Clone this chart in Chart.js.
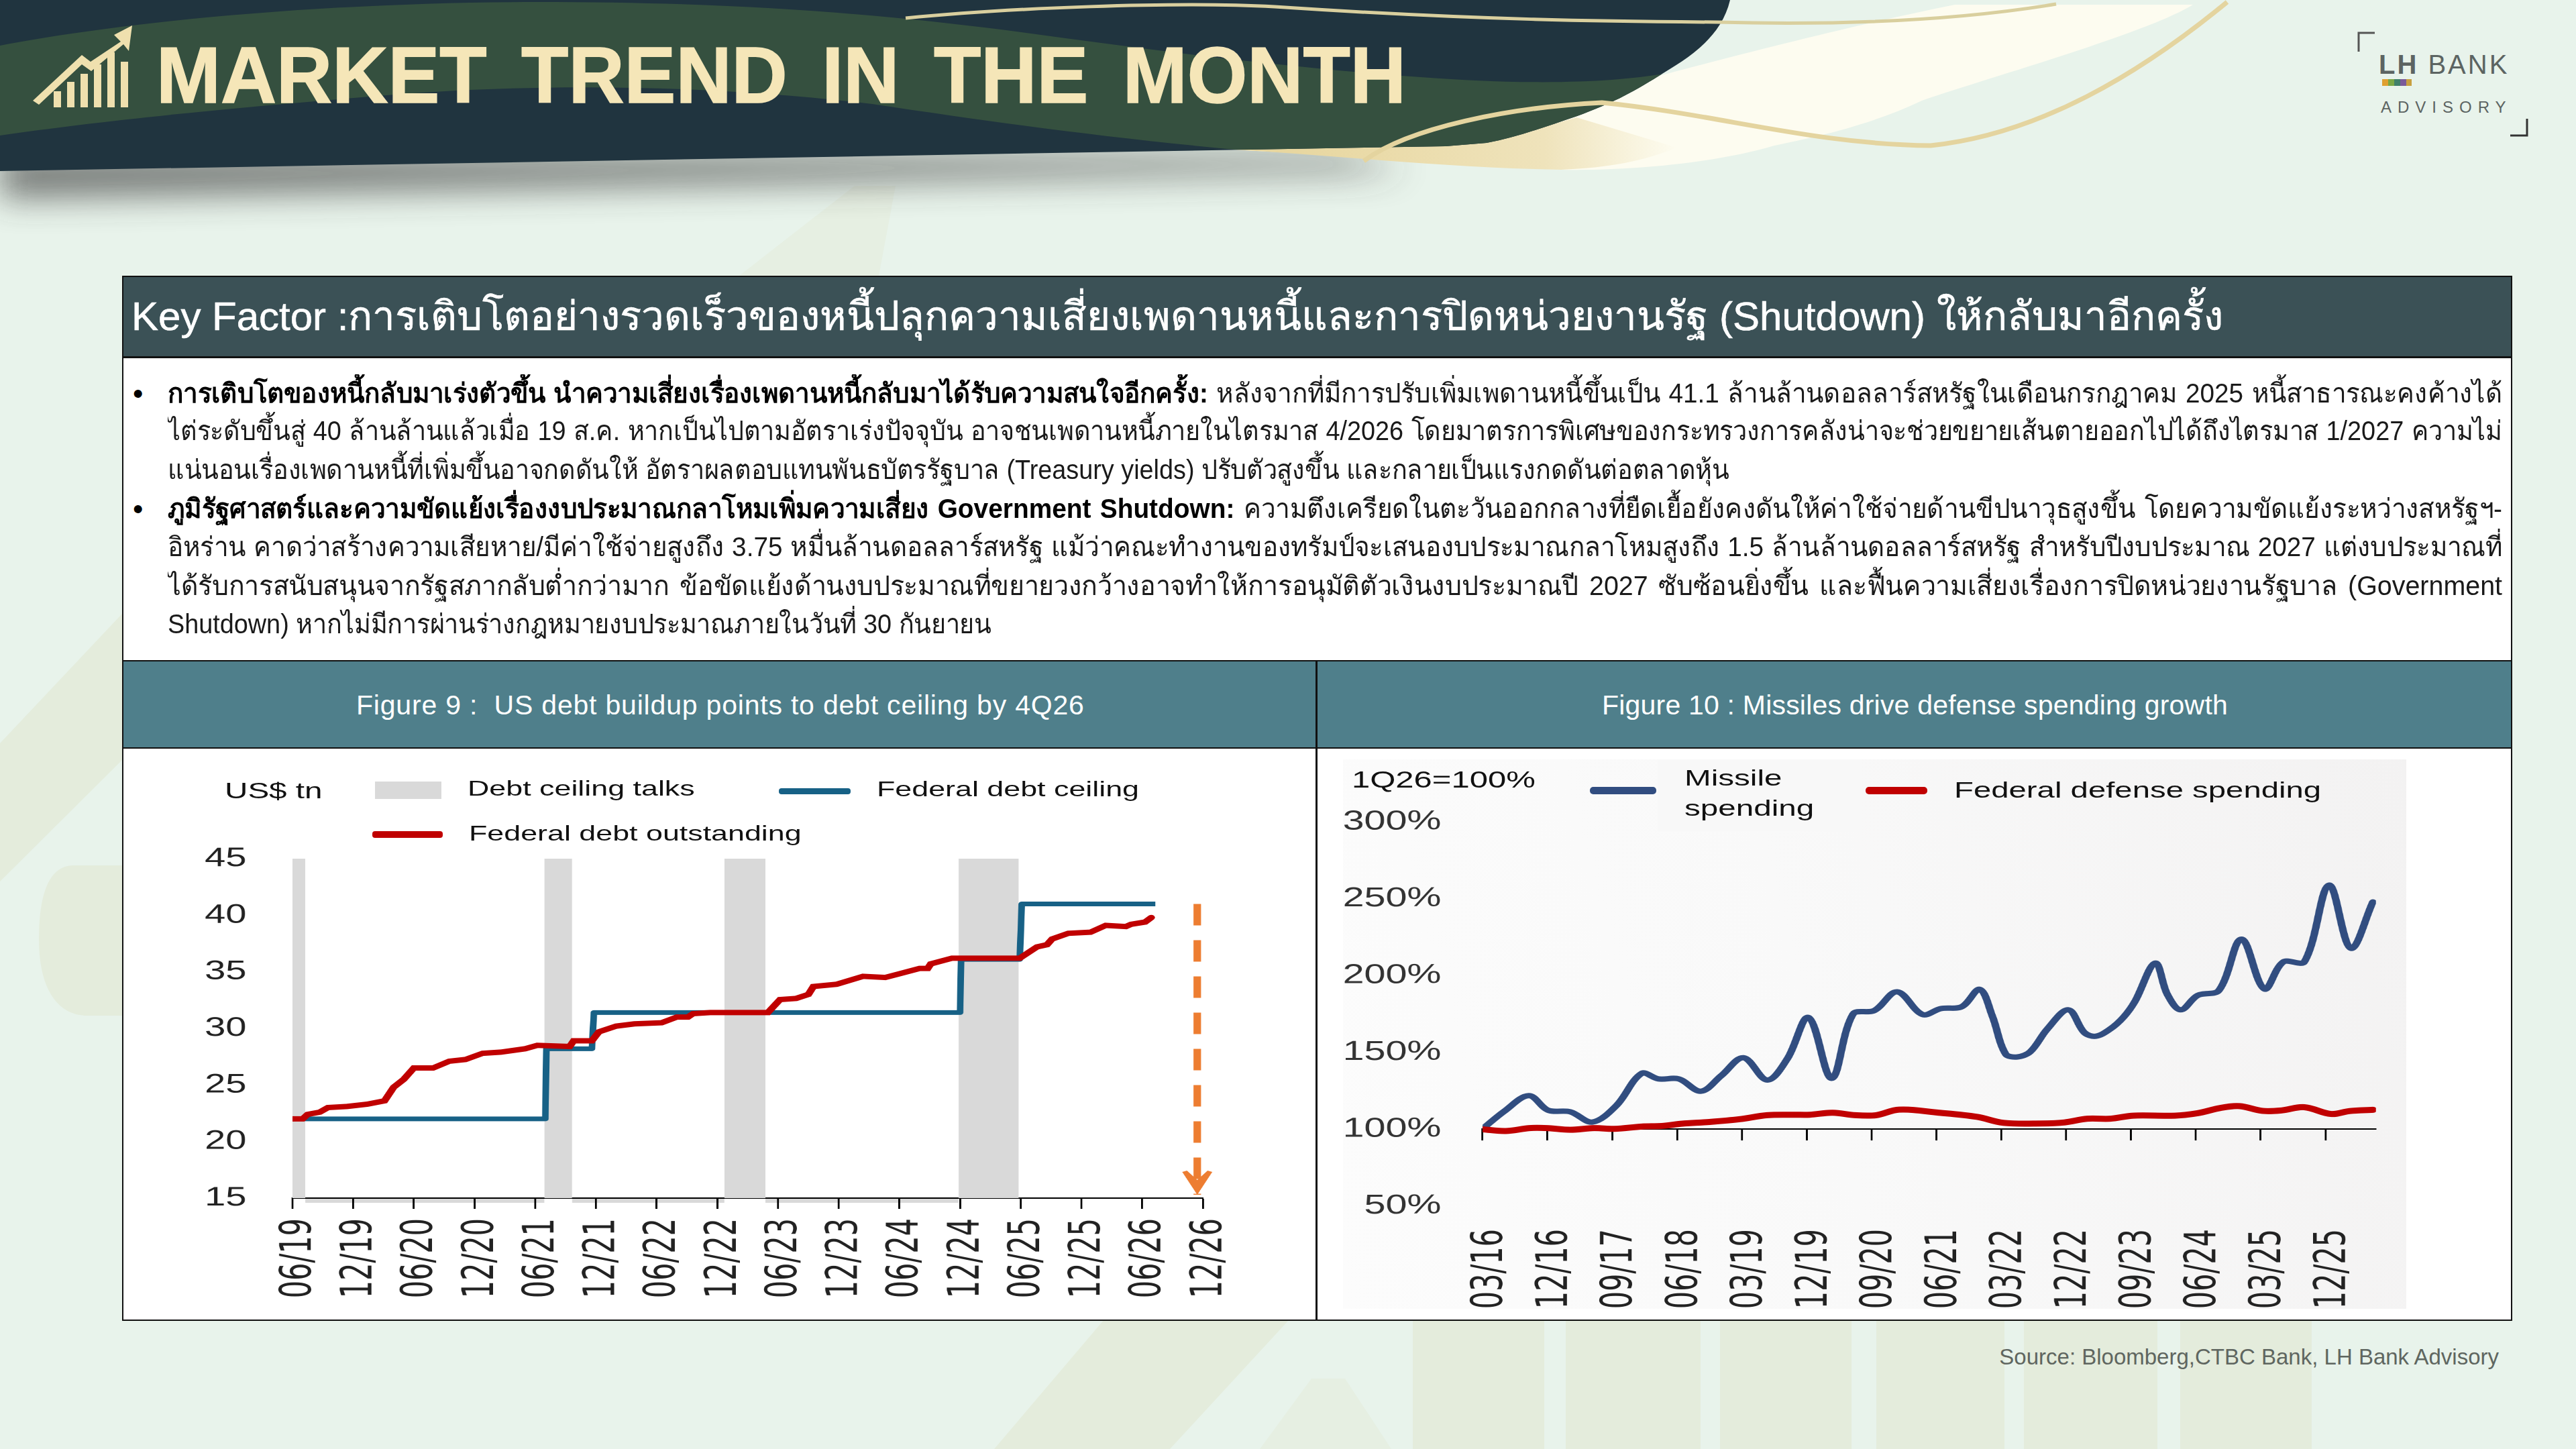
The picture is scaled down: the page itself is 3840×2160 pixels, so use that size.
<!DOCTYPE html>
<html lang="th">
<head>
<meta charset="utf-8">
<title>Market Trend in the Month</title>
<script src="https://cdn.jsdelivr.net/npm/chart.js@4"></script>
<style>
  html, body { margin: 0; padding: 0; }
  body { position: relative; width: 3840px; height: 2160px; overflow: hidden; background: #e8f3eb;
         font-family: "Liberation Sans", "Noto Sans", sans-serif; color: #000; }
  .abs { position: absolute; }
  #backdrop { left: 0; top: 0; }
  #box { left: 182px; top: 411px; width: 3559px; height: 1554px; background: #fff; border: 2px solid #111; }
  #keyBar { left: 184px; top: 413px; width: 3559px; height: 118px; background: #3b5156; border-bottom: 3px solid #111; }
  #keyText { left: 196px; top: 470px; color: #fff; font-size: 60px; white-space: nowrap; transform: translateY(-50%); -webkit-text-stroke: 0.6px #fff; }
  .line { position: absolute; left: 250px; width: 3480px; height: 57px; line-height: 57px; font-size: 40px; overflow: hidden;
          text-align: justify; text-align-last: justify; color: #1a1a1a; transform-origin: 0 0; }
  .line.end { text-align-last: left; }
  .line b { color: #000; }
  .bullet { position: absolute; left: 198px; font-size: 44px; line-height: 57px; }
  .figBar { top: 984px; height: 128px; background: #4f7f8b; border-top: 2px solid #111; border-bottom: 2px solid #111; }
  .figTitle { top: 1051px; color: #fff; font-size: 41px; white-space: nowrap; transform: translateY(-50%); }
  #divider { left: 1961px; top: 984px; width: 3px; height: 983px; background: #111; }
  #plotBg { left: 2002px; top: 1132px; width: 1585px; height: 819px;
            background: linear-gradient(75deg, #fcfcfc 0%, #f9f9f9 45%, #f3f2f2 100%); }
  #legendBox { left: 2471px; top: 1132px; width: 304px; height: 107px; background: #f8f8f8; }
  .chartWrap { position: absolute; top: 1116px; width: 1269px; height: 849px; transform: scaleX(1.4); transform-origin: 0 0; }
  .lg { position: absolute; white-space: nowrap; color: #111; transform: translateY(-50%) scaleX(1.4); transform-origin: 0 50%; }
  .swatch { position: absolute; }
  #source { right: 115px; top: 2023px; font-size: 33px; color: #5f6660; transform: translateY(-50%); white-space: nowrap; }
  .logo { position: absolute; white-space: nowrap; color: #5c6462; }
</style>
</head>
<body>

<svg id="backdrop" class="abs" width="3840" height="2160" viewBox="0 0 3840 2160">
  <defs>
    <filter id="soft" x="-10%" y="-100%" width="120%" height="300%"><feGaussianBlur stdDeviation="26"/></filter>
    <linearGradient id="gold" x1="0" y1="0" x2="1" y2="0">
      <stop offset="0" stop-color="#e6d49a"/><stop offset="0.7" stop-color="#efe3bb"/><stop offset="1" stop-color="#fdfcf0"/>
    </linearGradient>
    <clipPath id="bandClip">
      <path d="M0 0H2579C2565 60 2510 90 2473 113C2430 140 2400 155 2351 173C2300 190 2260 205 2216 213L2155 218L0 255Z"/>
    </clipPath>
  </defs>
  <!-- faint background shapes -->
  <g fill="#e4ecdc">
    <path d="M1274 277H1335L1310 411H1102Z" opacity=".6"/>
    <path d="M0 1108L182 915V1133L0 1314Z"/>
    <path d="M182 1290H110C70 1290 58 1340 58 1400C58 1480 90 1514 130 1514H182Z"/>
    <path d="M1646 1967H1922L1744 2160H1482Z"/>
    <path d="M2106 1967H2302V2160H2106ZM2334 1967H2535V2160H2334ZM2564 1967H2760V2160H2564ZM2797 1967H2988V2160H2797ZM3017 1967H3216V2160H3017ZM3250 1967H3446V2160H3250Z"/>
    <path d="M1878 2160L1955 2055H2005L2074 2160Z" opacity=".6"/>
  </g>
  <!-- header shadow -->
  <path d="M0 205H2000L2100 225L0 265Z" fill="#3a3a3a" opacity=".72" filter="url(#soft)" transform="translate(0,28)"/>
  <!-- cream swoosh -->
  <path d="M2914 7H3269C3200 50 2950 120 2865 150C2780 190 2700 205 2645 217C2550 245 2420 255 2327 253C2170 245 1980 230 1837 223L2216 213L2473 113C2560 90 2750 40 2914 7Z" fill="#fdfcf0"/>
  <path d="M1840 223C2000 232 2150 250 2327 253C2400 250 2450 240 2500 220L2350 175L2216 213Z" fill="url(#gold)"/>
  <!-- dark band -->
  <path d="M0 0H2579C2565 60 2510 90 2473 113C2430 140 2400 155 2351 173C2300 190 2260 205 2216 213L2155 218L0 255Z" fill="#20343f"/>
  <g clip-path="url(#bandClip)">
    <path d="M0 68C200 30 500 3 800 3C1100 3 1300 20 1500 45C1750 80 2000 110 2200 120C2330 126 2420 120 2480 110L2600 220L1840 223C1650 205 1500 185 1300 155C1050 125 800 125 600 140C350 160 150 180 0 202Z" fill="#35503f"/>
  </g>
  <!-- gold strokes -->
  <path d="M1350 27C1500 12 1750 2 1900 10C2200 30 2400 32 2560 33C2750 38 2920 30 3065 6" fill="none" stroke="#d9cf9e" stroke-width="5"/>
  <path d="M2033 240C2100 190 2250 160 2388 153C2560 170 2700 215 2878 217C3040 200 3190 110 3320 3" fill="none" stroke="#e4d49f" stroke-width="7"/>
  <!-- icon -->
  <g fill="#efe0ae">
    <rect x="80"  y="136" width="11" height="24"/>
    <rect x="100" y="122" width="11" height="38"/>
    <rect x="120" y="110" width="11" height="50"/>
    <rect x="140" y="96"  width="11" height="64"/>
    <rect x="160" y="78"  width="11" height="82"/>
    <rect x="180" y="92"  width="11" height="68"/>
    <path d="M49 150L122 82L135 92L180 62L170 52L197 38L192 76L184 66L136 106L122 96L58 156Z"/>
  </g>
  <!-- logo marks -->
  <path d="M3516 77V49H3540" fill="none" stroke="#555" stroke-width="3"/>
  <path d="M3767 177V202H3742" fill="none" stroke="#333" stroke-width="3"/>
  <g>
    <rect x="3551" y="118" width="9" height="10" fill="#e0a030"/>
    <rect x="3560" y="118" width="9" height="10" fill="#7aa845"/>
    <rect x="3569" y="118" width="9" height="10" fill="#40806a"/>
    <rect x="3578" y="118" width="9" height="10" fill="#7a5a9a"/>
    <rect x="3587" y="118" width="8" height="10" fill="#c8a040"/>
  </g>
  <text x="233" y="153" font-family="Liberation Sans" font-weight="700" font-size="118" fill="#f5e6b8" stroke="#f5e6b8" stroke-width="1.5"
        textLength="1863" lengthAdjust="spacingAndGlyphs" word-spacing="20">MARKET TREND IN THE MONTH</text>
</svg>

<div class="logo" style="left:3546px;top:74px;font-size:40px;letter-spacing:3px;"><b>LH</b> BANK</div>
<div class="logo" style="left:3549px;top:146px;font-size:24px;letter-spacing:9px;">ADVISORY</div>

<div id="box" class="abs"></div>
<div id="keyBar" class="abs"></div>
<div id="keyText" class="abs">Key Factor :การเติบโตอย่างรวดเร็วของหนี้ปลุกความเสี่ยงเพดานหนี้และการปิดหน่วยงานรัฐ (Shutdown) ให้กลับมาอีกครั้ง</div>

<div class="bullet" style="top:558px">•</div>
<div class="line" style="top:558px"><b>การเติบโตของหนี้กลับมาเร่งตัวขึ้น นำความเสี่ยงเรื่องเพดานหนี้กลับมาได้รับความสนใจอีกครั้ง:</b> หลังจากที่มีการปรับเพิ่มเพดานหนี้ขึ้นเป็น 41.1 ล้านล้านดอลลาร์สหรัฐในเดือนกรกฎาคม 2025 หนี้สาธารณะคงค้างได้</div>
<div class="line" style="top:614px">ไต่ระดับขึ้นสู่ 40 ล้านล้านแล้วเมื่อ 19 ส.ค. หากเป็นไปตามอัตราเร่งปัจจุบัน อาจชนเพดานหนี้ภายในไตรมาส 4/2026 โดยมาตรการพิเศษของกระทรวงการคลังน่าจะช่วยขยายเส้นตายออกไปได้ถึงไตรมาส 1/2027 ความไม่</div>
<div class="line end" style="top:672px">แน่นอนเรื่องเพดานหนี้ที่เพิ่มขึ้นอาจกดดันให้ อัตราผลตอบแทนพันธบัตรรัฐบาล (Treasury yields) ปรับตัวสูงขึ้น และกลายเป็นแรงกดดันต่อตลาดหุ้น</div>
<div class="bullet" style="top:730px">•</div>
<div class="line" style="top:730px"><b>ภูมิรัฐศาสตร์และความขัดแย้งเรื่องงบประมาณกลาโหมเพิ่มความเสี่ยง Government Shutdown:</b> ความตึงเครียดในตะวันออกกลางที่ยืดเยื้อยังคงดันให้ค่าใช้จ่ายด้านขีปนาวุธสูงขึ้น โดยความขัดแย้งระหว่างสหรัฐฯ-</div>
<div class="line" style="top:787px">อิหร่าน คาดว่าสร้างความเสียหาย/มีค่าใช้จ่ายสูงถึง 3.75 หมื่นล้านดอลลาร์สหรัฐ แม้ว่าคณะทำงานของทรัมป์จะเสนองบประมาณกลาโหมสูงถึง 1.5 ล้านล้านดอลลาร์สหรัฐ สำหรับปีงบประมาณ 2027 แต่งบประมาณที่</div>
<div class="line" style="top:845px">ได้รับการสนับสนุนจากรัฐสภากลับต่ำกว่ามาก ข้อขัดแย้งด้านงบประมาณที่ขยายวงกว้างอาจทำให้การอนุมัติตัวเงินงบประมาณปี 2027 ซับซ้อนยิ่งขึ้น และฟื้นความเสี่ยงเรื่องการปิดหน่วยงานรัฐบาล (Government</div>
<div class="line end" style="top:902px">Shutdown) หากไม่มีการผ่านร่างกฎหมายงบประมาณภายในวันที่ 30 กันยายน</div>

<div class="abs figBar" style="left:184px;width:3559px"></div>
<div id="divider" class="abs"></div>
<div class="abs figTitle" style="left:531px;letter-spacing:0.8px">Figure 9 :&nbsp; US debt buildup points to debt ceiling by 4Q26</div>
<div class="abs figTitle" style="left:2388px;letter-spacing:0.2px">Figure 10 : Missiles drive defense spending growth</div>

<div id="plotBg" class="abs"></div>
<div id="legendBox" class="abs"></div>

<div class="chartWrap" style="left:184px"><canvas id="debtChart" width="1269" height="849"></canvas></div>
<div class="chartWrap" style="left:1964px"><canvas id="missileChart" width="1269" height="849"></canvas></div>

<!-- Figure 9 legend -->
<div class="lg" style="left:335px;top:1178px;font-size:34px">US$ tn</div>
<div class="swatch" style="left:559px;top:1165px;width:99px;height:26px;background:#d9d9d9"></div>
<div class="lg" style="left:697px;top:1175px;font-size:32px">Debt ceiling talks</div>
<div class="swatch" style="left:1161px;top:1175px;width:107px;height:9px;border-radius:4px;background:#176186"></div>
<div class="lg" style="left:1307px;top:1176px;font-size:32px">Federal debt ceiling</div>
<div class="swatch" style="left:555px;top:1239px;width:105px;height:10px;border-radius:4px;background:#c00000"></div>
<div class="lg" style="left:699px;top:1242px;font-size:32px">Federal debt outstanding</div>

<!-- Figure 10 legend -->
<div class="lg" style="left:2015px;top:1162px;font-size:35px">1Q26=100%</div>
<div class="swatch" style="left:2370px;top:1173px;width:99px;height:11px;border-radius:5px;background:#314d80"></div>
<div class="lg" style="left:2511px;top:1159px;font-size:34px">Missile</div>
<div class="lg" style="left:2511px;top:1204px;font-size:34px">spending</div>
<div class="swatch" style="left:2781px;top:1173px;width:92px;height:11px;border-radius:5px;background:#c00000"></div>
<div class="lg" style="left:2913px;top:1177px;font-size:33.8px">Federal defense spending</div>

<div id="source" class="abs">Source: Bloomberg,CTBC Bank, LH Bank Advisory</div>

<script>
// Figure 9 : months counted from 06/19
const debtTickLabels = ['06/19','12/19','06/20','12/20','06/21','12/21','06/22','12/22','06/23','12/23','06/24','12/24','06/25','12/25','06/26','12/26'];
const debtMonths = [0,1,1.5,2.7,3.5,5.4,7.4,9.1,10,11,12,13.9,15.5,17.1,18.8,20.6,23,24.2,27.4,27.8,29.6,30.3,32,33.8,36.5,38,39.1,39.6,41.3,47,48.2,49.8,51,51.5,53.8,56.4,58.6,59.9,62,62.8,63.1,65.2,71.9,73.6,74.6,75.1,76.7,78.9,80.4,82.4,82.9,84.3,84.9];
const debtValues = [22,22,22.4,22.6,23,23.1,23.3,23.6,24.8,25.5,26.5,26.5,27.1,27.25,27.8,27.9,28.2,28.5,28.4,28.9,28.9,29.7,30.2,30.4,30.5,31,31,31.3,31.4,31.4,32.55,32.65,33,33.7,33.9,34.6,34.5,34.8,35.3,35.3,35.7,36.2,36.2,37.2,37.4,37.9,38.4,38.5,39.1,39,39.2,39.4,39.8];
const ceilingMonths = [0,25,25.1,29.6,29.8,66,66.1,71.9,72.1,85.3];
const ceilingValues = [22,22,28.2,28.2,31.4,31.4,36.1,36.1,41,41];
const talkStarts = [-0.07,24.9,42.7,65.85];
const talkEnds = [1.26,27.65,46.75,71.8];
const talkTop = 45;
const arrowMonth = 89.45;
const arrowFrom = 41;
const arrowTo = 15.3;

// Figure 10 : quarters counted from 03/16
const missileTickLabels = ['03/16','12/16','09/17','06/18','03/19','12/19','09/20','06/21','03/22','12/22','09/23','06/24','03/25','12/25'];
const missileQuarters = [0,1,2.14,3.04,4.06,5.08,6.18,7.36,8.14,9.08,10.1,11.05,12.07,13.17,14.1,15.08,16.15,17.15,18.12,19.18,20.36,21.2,22.17,23,23.58,24.2,24.73,25.34,26.13,27.1,27.84,28.37,29.04,29.66,30.18,31.12,31.68,32.3,33.09,34.06,35.11,36.17,37.05,38.02,39.16,40.17,41.19];
const missileValues = [100.1,111.5,121.7,112.2,111.2,104.5,115.1,136.2,132.6,132.6,124.6,134.8,146.4,131.9,145.7,172.6,133,175,177.1,189.3,174.5,178.4,179.6,190.9,173.7,148.8,146.9,150.3,165.1,177.6,162.8,160.4,165.1,172.9,183,208,187.7,177.6,187,190.1,223.6,191.2,208.8,208.8,258.7,217.7,247.8];
const defenseQuarters = [0,1.08,2.18,2.96,4.06,5.16,6.1,7.36,8.3,9.24,10.5,11.9,13.17,14.4,15.13,16.19,17.24,18.21,19.27,21.12,22.88,24.11,25.87,26.93,27.98,29.04,30.1,32.03,33.09,34.14,35.02,36.08,36.96,38.02,39.25,40.13,41.19];
const defenseValues = [99.8,98.7,100.6,100.6,99.5,100.6,100.1,101.6,102,103.5,104.6,106.4,109,109.3,109.3,110.6,109,109,112.6,110.6,107.9,104,103.6,104.3,106.7,106.7,108.7,108.7,110.3,113.7,114.9,111.8,112.1,114.2,109.8,111.7,112.5];

function toPoints(xs, ys) {
    return xs.map((x, i) => ({ x: x, y: ys[i] }));
}

// one filled block per talk period, broken by an empty point
function talkPoints() {
    const pts = [];
    talkStarts.forEach((start, i) => {
        pts.push({ x: start, y: talkTop }, { x: talkEnds[i], y: talkTop }, { x: talkEnds[i] + 0.01, y: null });
    });
    return pts;
}

// thin grey strip under the axis between the talk periods, as in the source image
const talkStrip = {
    id: 'talkStrip',
    beforeDraw(chart) {
        const xs = chart.scales.x;
        const y = chart.scales.y.getPixelForValue(15);
        const ctx = chart.ctx;
        ctx.save();
        ctx.fillStyle = '#d9d9d9';
        for (let i = 0; i < talkEnds.length - 1; i++) {
            const left = xs.getPixelForValue(talkEnds[i]);
            ctx.fillRect(left, y, xs.getPixelForValue(talkStarts[i + 1]) - left, 7);
        }
        ctx.restore();
    }
};

// arrow head on the last point of the orange dashed line
const arrowHead = {
    id: 'arrowHead',
    afterDatasetsDraw(chart) {
        const x = chart.scales.x.getPixelForValue(arrowMonth);
        const y = chart.scales.y.getPixelForValue(arrowTo);
        const ctx = chart.ctx;
        ctx.save();
        ctx.fillStyle = '#ed7d31';
        ctx.beginPath();
        ctx.moveTo(x, y);
        ctx.lineTo(x - 16, y - 34);
        ctx.lineTo(x - 11, y - 36);
        ctx.lineTo(x, y - 22);
        ctx.lineTo(x + 11, y - 36);
        ctx.lineTo(x + 16, y - 34);
        ctx.closePath();
        ctx.fill();
        ctx.restore();
    }
};

const xGrid = { drawOnChartArea: false, drawTicks: true, tickLength: 16, tickColor: '#000', tickWidth: 2 };
const xTickFont = { family: '"DejaVu Sans Condensed", "DejaVu Sans"', size: 46 };

new Chart(document.getElementById('debtChart'), {
    type: 'line',
    plugins: [talkStrip, arrowHead],
    data: {
        datasets: [
            { label: 'Federal debt outstanding', data: toPoints(debtMonths, debtValues), borderColor: '#c00000', borderWidth: 8, pointRadius: 0, tension: 0, borderCapStyle: 'round' },
            { label: 'Federal debt ceiling', data: toPoints(ceilingMonths, ceilingValues), borderColor: '#176186', borderWidth: 7, pointRadius: 0, tension: 0, borderJoinStyle: 'round' },
            { label: 'Forecast', data: [{ x: arrowMonth, y: arrowFrom }, { x: arrowMonth, y: arrowTo }], borderColor: '#ed7d31', borderWidth: 8, borderDash: [32, 22], pointRadius: 0 },
            { label: 'Debt ceiling talks', data: talkPoints(), borderWidth: 0, borderColor: 'rgba(0,0,0,0)', backgroundColor: '#d9d9d9', fill: 'start', pointRadius: 0, tension: 0, spanGaps: false }
        ]
    },
    options: {
        responsive: false,
        animation: false,
        devicePixelRatio: 2,
        layout: { padding: { left: 0, right: 119.7, top: 164, bottom: 0 } },
        plugins: { legend: { display: false }, tooltip: { enabled: false } },
        scales: {
            x: {
                type: 'linear',
                min: 0,
                max: 90,
                afterFit(scale) { scale.height = 179; },
                grid: xGrid,
                border: { color: '#000', width: 2 },
                ticks: {
                    stepSize: 6,
                    includeBounds: false,
                    autoSkip: false,
                    minRotation: 90,
                    maxRotation: 90,
                    padding: 14,
                    labelOffset: 7.5,
                    color: '#222',
                    font: xTickFont,
                    callback: value => debtTickLabels[value / 6]
                }
            },
            y: {
                min: 15,
                max: 45,
                afterFit(scale) { scale.width = 180; },
                grid: { display: false },
                border: { display: false },
                ticks: { stepSize: 5, padding: 41, color: '#222', font: { family: '"Liberation Sans"', size: 40 } }
            }
        }
    }
});

new Chart(document.getElementById('missileChart'), {
    type: 'line',
    data: {
        datasets: [
            { label: 'Federal defense spending', data: toPoints(defenseQuarters, defenseValues), borderColor: '#c00000', borderWidth: 9, pointRadius: 0, tension: 0.35, borderCapStyle: 'round' },
            { label: 'Missile spending', data: toPoints(missileQuarters, missileValues), borderColor: '#314d80', borderWidth: 8, pointRadius: 0, tension: 0.35, borderCapStyle: 'round' }
        ]
    },
    options: {
        responsive: false,
        animation: false,
        devicePixelRatio: 2,
        layout: { padding: { left: 0, right: 133.3, top: 109, bottom: 167.5 } },
        plugins: { legend: { display: false }, tooltip: { enabled: false } },
        scales: {
            x: {
                type: 'linear',
                position: { y: 100 },
                min: 0,
                max: 41.33,
                grid: xGrid,
                border: { color: '#000', width: 2 },
                ticks: {
                    stepSize: 3,
                    includeBounds: false,
                    autoSkip: false,
                    minRotation: 90,
                    maxRotation: 90,
                    padding: 133,
                    labelOffset: 9,
                    color: '#222',
                    font: xTickFont,
                    callback: value => missileTickLabels[value / 3]
                }
            },
            y: {
                min: 50,
                max: 300,
                afterFit(scale) { scale.width = 175.7; },
                grid: { display: false },
                border: { display: false },
                ticks: { stepSize: 50, padding: 36, color: '#333', font: { family: '"Liberation Sans"', size: 41 }, callback: value => value + '%' }
            }
        }
    }
});

// squeeze each body line so it fits on one row like the original
document.querySelectorAll('.line').forEach(el => {
    el.style.width = 'max-content';
    const natural = el.getBoundingClientRect().width;
    const cap = el.classList.contains('end') ? 0.945 : 0.985;
    const squeeze = Math.min(cap, 3470 / natural);
    el.style.width = (3480 / squeeze) + 'px';
    el.style.transform = 'scaleX(' + squeeze + ')';
});
</script>
</body>
</html>
